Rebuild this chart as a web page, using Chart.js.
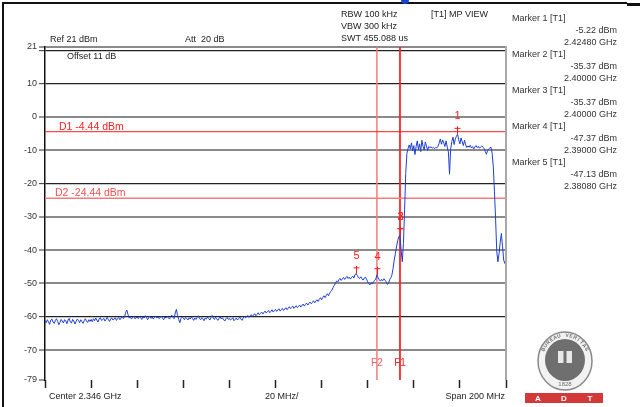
<!DOCTYPE html>
<html lang="en">
<head>
<meta charset="UTF-8" />
<title>Band edge plot</title>
<script src="https://cdn.jsdelivr.net/npm/chart.js"></script>
<style>
  html, body { margin: 0; padding: 0; background: #fff; }
  #wrap { width: 640px; height: 407px; }
</style>
</head>
<body>
<div id="wrap"><canvas id="plot" width="640" height="407"></canvas></div>
<script>
// sweep 2.246 .. 2.446 GHz, one reading every 0.5 MHz
const startMHz = 2246;
const stepMHz = 0.5;
const traceDbm = [
  -61.2,-61.8,-60.9,-61.5,-62.3,-61.0,-60.7,-61.6,-62.0,-61.1,-60.6,-61.4,-62.4,-61.7,-60.8,-61.3,-61.9,-60.9,-61.2,-62.1,
  -61.0,-60.5,-61.6,-61.9,-60.8,-61.3,-62.2,-61.4,-60.7,-61.1,-61.8,-60.9,-61.5,-62.0,-61.2,-60.6,-61.3,-61.7,-60.9,-61.4,
  -60.8,-61.5,-60.6,-61.2,-60.4,-61.0,-61.6,-60.7,-60.3,-61.1,-60.9,-60.5,-61.3,-60.8,-60.2,-60.9,-61.4,-60.6,-60.4,-61.0,
  -60.7,-60.3,-61.1,-60.5,-60.2,-60.9,-60.4,-59.8,-60.6,-60.1,-58.7,-58.0,-59.3,-60.4,-60.0,-60.7,-60.2,-59.9,-60.6,-60.3,
  -60.1,-60.6,-59.9,-60.3,-60.8,-60.0,-60.4,-59.7,-60.2,-60.9,-60.3,-59.8,-60.5,-60.1,-60.7,-60.2,-59.9,-60.4,-60.0,-60.6,
  -60.2,-59.8,-60.5,-60.9,-60.1,-60.4,-59.9,-60.3,-60.7,-60.0,-59.5,-60.2,-60.6,-58.9,-57.8,-59.6,-60.8,-61.8,-60.5,-60.1,
  -60.4,-60.9,-60.2,-60.6,-61.0,-60.3,-60.7,-60.1,-60.5,-61.1,-60.4,-60.8,-60.2,-59.7,-60.5,-60.9,-60.3,-60.6,-61.2,-60.4,
  -60.7,-60.1,-60.5,-61.0,-60.3,-59.6,-60.4,-60.8,-60.2,-60.6,-61.1,-60.5,-60.0,-60.7,-60.3,-60.9,-61.3,-60.6,-60.2,-60.8,
  -60.5,-61.0,-60.7,-60.3,-61.2,-60.8,-60.4,-61.0,-60.6,-60.1,-60.7,-61.1,-60.4,-59.8,-60.3,-60.0,-59.6,-60.2,-59.8,-59.4,
  -59.9,-59.5,-59.1,-59.7,-59.3,-58.8,-59.4,-59.0,-58.6,-59.2,-58.7,-58.3,-58.9,-58.5,-58.1,-58.8,-58.4,-57.9,-58.6,-58.2,
  -57.8,-58.4,-58.0,-57.6,-58.3,-57.9,-57.5,-58.1,-57.7,-57.3,-57.9,-57.4,-57.0,-57.6,-57.2,-56.8,-57.5,-57.1,-56.7,-57.3,
  -56.9,-56.5,-57.1,-56.6,-56.2,-56.8,-56.3,-55.9,-56.5,-56.0,-55.6,-56.1,-55.7,-55.2,-55.8,-55.3,-54.9,-55.4,-54.8,-54.3,
  -54.9,-54.2,-53.7,-54.3,-53.6,-53.1,-53.7,-52.9,-52.4,-52.0,-51.2,-50.6,-49.9,-49.3,-49.6,-48.9,-48.5,-49.1,-48.6,-48.2,
  -48.8,-48.3,-47.9,-48.5,-48.1,-48.7,-48.2,-47.8,-48.4,-47.3,-47.1,-47.6,-48.3,-48.5,-48.0,-48.6,-49.0,-48.4,-48.1,-48.7,
  -49.5,-50.1,-50.4,-49.8,-50.2,-49.6,-49.1,-48.7,-47.4,-48.2,-48.9,-49.3,-48.8,-49.2,-48.6,-49.0,-49.5,-50.3,-50.0,-48.9,
  -48.3,-47.5,-45.5,-43.0,-41.0,-39.0,-37.2,-36.0,-35.4,-40.0,-43.5,-38.0,-28.0,-17.0,-11.0,-9.5,-8.4,-9.6,-7.8,-10.2,
  -8.6,-11.3,-8.9,-7.2,-9.8,-8.1,-10.4,-7.0,-8.8,-9.9,-7.5,-8.7,-10.1,-8.9,-9.2,-9.0,-9.4,-9.1,-9.5,-9.2,
  -9.3,-8.8,-7.9,-6.6,-8.2,-6.9,-7.8,-8.9,-7.2,-9.0,-10.5,-17.2,-9.6,-7.4,-6.1,-8.3,-6.6,-5.8,-5.2,-6.9,
  -8.1,-6.3,-7.5,-8.6,-7.0,-8.4,-9.2,-8.7,-9.1,-8.5,-9.3,-8.9,-9.6,-9.0,-8.6,-9.2,-8.8,-9.4,-9.0,-8.7,
  -9.1,-9.5,-10.4,-11.2,-10.1,-9.6,-9.3,-9.1,-11.0,-15.0,-22.5,-31.0,-40.5,-43.5,-41.0,-37.5,-35.0,-39.0,-43.0,-44.0,
  -42.5
];

const yTicks = [21, 20, 10, 0, -10, -20, -30, -40, -50, -60, -70, -79];
const xTicks = [2246, 2266, 2286, 2306, 2326, 2346, 2366, 2386, 2406, 2426, 2446];

const markerNames = ['1', '2', '3', '4', '5'];
const markerMHz = [2424.8, 2400, 2400, 2390, 2380.8];
const markerDbm = [-5.22, -35.37, -35.37, -47.37, -47.13];

const displayNames = ['D1', 'D2'];
const displayDbm = [-4.44, -24.44];
const freqLineNames = ['F1', 'F2'];
const freqLineMHz = [2400, 2390];

const headerLeft = ['Ref 21 dBm', 'Att  20 dB', 'Offset 11 dB'];
const headerMid = ['RBW 100 kHz', 'VBW 300 kHz', 'SWT 455.088 us'];
const xLabels = ['Center 2.346 GHz', '20 MHz/', 'Span 200 MHz'];

const FONT = "'Liberation Sans', Arial, sans-serif";
const darkLines = [20, 10, -20, -60];

const tracePts = traceDbm.map((v, i) => ({ x: startMHz + i * stepMHz, y: v }));
const hLine = v => [{ x: xTicks[0], y: v }, { x: xTicks[xTicks.length - 1], y: v }];
const vLine = f => [{ x: f, y: yTicks[0] }, { x: f, y: yTicks[yTicks.length - 1] }];

function txt(ctx, s, x, y, color, size, align) {
  ctx.fillStyle = color;
  ctx.font = `${size}px ${FONT}`;
  ctx.textAlign = align || 'left';
  ctx.textBaseline = 'middle';
  ctx.fillText(s, x, y);
}

function drawLogo(ctx) {
  const cx = 565, cy = 361;
  ctx.save();
  ctx.beginPath(); ctx.ellipse(cx, cy, 27, 29, 0, 0, Math.PI * 2);
  ctx.fillStyle = '#f2f2f2'; ctx.fill();
  ctx.lineWidth = 1.5; ctx.strokeStyle = '#8a8a8a'; ctx.stroke();
  ctx.beginPath(); ctx.ellipse(cx, cy - 1, 20, 21, 0, 0, Math.PI * 2);
  ctx.fillStyle = '#6f6f6f'; ctx.fill();
  // ring lettering
  const ring = 'BUREAU VERITAS';
  ctx.fillStyle = '#6f6f6f'; ctx.font = `bold 5px ${FONT}`;
  ctx.textAlign = 'center'; ctx.textBaseline = 'middle';
  for (let i = 0; i < ring.length; i++) {
    const a = Math.PI * (1.15 + 0.7 * i / (ring.length - 1));
    ctx.save();
    ctx.translate(cx + Math.cos(a) * 24, cy + Math.sin(a) * 25.5);
    ctx.rotate(a + Math.PI / 2);
    ctx.fillText(ring[i], 0, 0);
    ctx.restore();
  }
  ctx.fillStyle = '#e8e8e8';
  ctx.fillRect(cx - 7, cy - 10, 14, 12);
  ctx.fillStyle = '#6f6f6f';
  ctx.beginPath(); ctx.arc(cx, cy - 13, 3, 0, Math.PI * 2); ctx.fill();
  ctx.fillRect(cx - 1.5, cy - 10, 3, 14);
  txt(ctx, '1828', cx, cy + 23, '#6f6f6f', 6, 'center');
  ctx.fillStyle = '#d23a3a';
  ctx.fillRect(525, 393, 78, 10);
  ['A', 'D', 'T'].forEach((c, i) => {
    ctx.fillStyle = '#fff'; ctx.font = `bold 8px ${FONT}`;
    ctx.textAlign = 'center'; ctx.textBaseline = 'middle';
    ctx.fillText(c, 538 + i * 26, 398.5);
  });
  ctx.restore();
}

const overlay = {
  id: 'overlay',
  afterDatasetsDraw(chart) {
    const { ctx, chartArea: a, scales: { x, y } } = chart;
    ctx.save();
    // right frame of the screen
    ctx.strokeStyle = '#a8a8a8'; ctx.lineWidth = 2;
    ctx.beginPath(); ctx.moveTo(a.right, a.top - 1); ctx.lineTo(a.right, a.bottom); ctx.stroke();

    // display line captions
    displayNames.forEach((n, i) => {
      const py = y.getPixelForValue(displayDbm[i]);
      txt(ctx, `${n} ${displayDbm[i].toFixed(2)} dBm`, i === 0 ? 59 : 55, py - 5, i === 0 ? '#ff2020' : '#f05050', 10.5);
    });
    // frequency line captions
    freqLineNames.forEach((n, i) => {
      txt(ctx, n, x.getPixelForValue(freqLineMHz[i]), 363, i === 0 ? '#ff2020' : '#f06060', 10, 'center');
    });
    // markers
    ctx.strokeStyle = '#ff1a1a'; ctx.lineWidth = 1;
    markerNames.forEach((n, i) => {
      const px = Math.round(x.getPixelForValue(markerMHz[i])) + 0.5;
      const py = y.getPixelForValue(markerDbm[i]);
      ctx.beginPath();
      ctx.moveTo(px, py - 8); ctx.lineTo(px, py);
      ctx.moveTo(px - 3, py - 6); ctx.lineTo(px + 3, py - 6);
      ctx.stroke();
      txt(ctx, n, px, py - 18, '#ff2020', 11, 'center');
    });

    // header texts
    txt(ctx, headerLeft[0], 50, 40, '#222', 9);
    txt(ctx, headerLeft[1], 185, 40, '#222', 9);
    txt(ctx, headerLeft[2], 67, 57, '#222', 9);
    headerMid.forEach((s, i) => txt(ctx, s, 341, 15 + i * 12, '#222', 9));
    txt(ctx, '[T1] MP VIEW', 431, 15, '#222', 9);

    // marker table
    markerNames.forEach((n, i) => {
      const y0 = 19 + i * 36;
      txt(ctx, `Marker ${n} [T1]`, 512, y0, '#333', 9);
      txt(ctx, `${markerDbm[i].toFixed(2)} dBm`, 617, y0 + 12, '#333', 9, 'right');
      txt(ctx, `${(markerMHz[i] / 1000).toFixed(5)} GHz`, 617, y0 + 24, '#333', 9, 'right');
    });

    // x axis captions
    txt(ctx, xLabels[0], 49, 397, '#222', 9);
    txt(ctx, xLabels[1], 265, 397, '#222', 9);
    txt(ctx, xLabels[2], 505, 397, '#222', 9, 'right');

    // outer frame of the screenshot
    ctx.strokeStyle = '#111'; ctx.lineWidth = 2;
    ctx.beginPath(); ctx.moveTo(3, 407); ctx.lineTo(3, 3); ctx.lineTo(627, 3); ctx.stroke();
    ctx.lineWidth = 3;
    ctx.beginPath(); ctx.moveTo(627, 4.5); ctx.lineTo(640, 4.5); ctx.stroke();
    ctx.fillStyle = '#1a3fd6';
    ctx.beginPath(); ctx.arc(405, 0, 4, 0, Math.PI); ctx.fill();

    drawLogo(ctx);
    ctx.restore();
  }
};

new Chart(document.getElementById('plot'), {
  type: 'line',
  data: {
    datasets: [
      { data: tracePts, borderColor: '#1d3fd4', borderWidth: 1, pointRadius: 0, tension: 0 },
      { data: hLine(displayDbm[0]), borderColor: '#ff1a1a', borderWidth: 1, pointRadius: 0 },
      { data: hLine(displayDbm[1]), borderColor: '#f47c7c', borderWidth: 1.5, pointRadius: 0 },
      { data: vLine(freqLineMHz[0]), borderColor: '#ff2020', borderWidth: 1, pointRadius: 0 },
      { data: vLine(freqLineMHz[1]), borderColor: '#f47c7c', borderWidth: 1.5, pointRadius: 0 }
    ]
  },
  options: {
    responsive: false,
    animation: false,
    layout: { padding: { left: 0, top: 47, right: 134, bottom: 0 } },
    plugins: { legend: { display: false }, tooltip: { enabled: false } },
    scales: {
      x: {
        type: 'linear', min: xTicks[0], max: xTicks[xTicks.length - 1],
        afterBuildTicks: s => { s.ticks = xTicks.map(v => ({ value: v })); },
        ticks: { display: false },
        grid: { drawOnChartArea: false, drawTicks: true, tickLength: 8, tickColor: '#222', tickWidth: 1.5 },
        border: { display: false },
        afterFit: s => { s.height = 27; }
      },
      y: {
        min: yTicks[yTicks.length - 1], max: yTicks[0],
        afterBuildTicks: s => { s.ticks = yTicks.map(v => ({ value: v })); },
        ticks: {
          autoSkip: false, color: '#333', padding: 2,
          font: { size: 9, family: FONT },
          callback: v => (v === 20 ? '' : String(v))
        },
        grid: {
          color: c => {
            const v = c.tick && c.tick.value;
            if (v === -79) return 'rgba(0,0,0,0)';
            return darkLines.includes(v) ? '#222' : '#8a8a8a';
          },
          lineWidth: c => (darkLines.includes(c.tick && c.tick.value) ? 1.3 : 2),
          tickColor: '#333', tickLength: 6, tickWidth: 1
        },
        border: { display: true, color: '#111', width: 1.5 },
        afterFit: s => { s.width = 45; }
      }
    }
  },
  plugins: [overlay]
});
</script>
</body>
</html>
